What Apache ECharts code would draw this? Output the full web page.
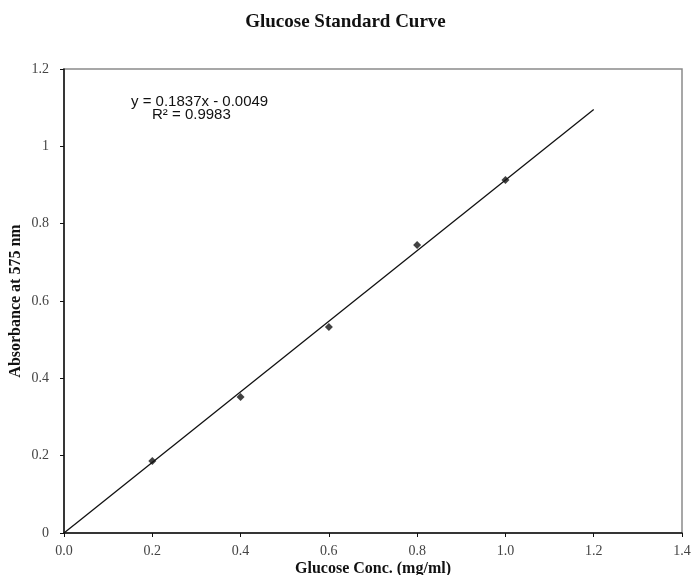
<!DOCTYPE html>
<html>
<head>
<meta charset="utf-8">
<script src="https://cdn.jsdelivr.net/npm/echarts@6/dist/echarts.min.js"></script>
<style>
  html, body { margin: 0; padding: 0; background: #fff; }
  #chart { width: 691px; height: 575px; }
</style>
</head>
<body>
<div id="chart"></div>
<script>
// Glucose standards: concentration (mg/ml) and measured absorbance
const concentration = [0.2, 0.4, 0.6, 0.8, 1.0];
const absorbance = [0.186, 0.352, 0.533, 0.745, 0.913];

// Fitted trend line endpoints
const trendX = [0, 1.2];
const trendY = [0, 1.095];

const equationLines = ['y = 0.1837x - 0.0049', 'R\u00b2 = 0.9983'];

const serif = "'Liberation Serif', 'DejaVu Serif', serif";
const sans = "'Liberation Sans', Arial, sans-serif";

const chart = echarts.init(document.getElementById('chart'));

chart.setOption({
  animation: false,
  backgroundColor: '#fff',
  title: {
    text: 'Glucose Standard Curve',
    left: 'center',
    top: 8,
    textStyle: { fontFamily: serif, fontWeight: 'bold', fontSize: 19, color: '#111' }
  },
  grid: {
    left: 64, right: 9, top: 69, bottom: 42,
    outerBoundsMode: 'none',
    containLabel: false,
    show: true, borderColor: '#8a8a8a', borderWidth: 1.5, backgroundColor: 'transparent'
  },
  xAxis: {
    type: 'value', min: 0, max: 1.4, interval: 0.2,
    name: 'Glucose Conc. (mg/ml)',
    nameLocation: 'middle', nameGap: 28, nameMoveOverlap: false,
    nameTextStyle: { fontFamily: serif, fontWeight: 'bold', fontSize: 16, color: '#111' },
    axisLine: { show: true, onZero: false, lineStyle: { color: '#111', width: 1.5 } },
    axisTick: { show: true, length: 4, lineStyle: { color: '#111' } },
    axisLabel: {
      fontFamily: serif, fontSize: 14, color: '#444', margin: 11,
      formatter: v => v.toFixed(1)
    },
    splitLine: { show: false }
  },
  yAxis: {
    type: 'value', min: 0, max: 1.2, interval: 0.2,
    name: 'Absorbance at 575 nm',
    nameLocation: 'middle', nameGap: 40, nameRotate: 90, nameMoveOverlap: false,
    nameTextStyle: { fontFamily: serif, fontWeight: 'bold', fontSize: 16, color: '#111' },
    axisLine: { show: true, onZero: false, lineStyle: { color: '#111', width: 1.5 } },
    axisTick: { show: true, length: 4, lineStyle: { color: '#111' } },
    axisLabel: {
      fontFamily: serif, fontSize: 14, color: '#444', margin: 15,
      formatter: v => (Math.abs(v - Math.round(v)) < 1e-9 ? String(Math.round(v)) : v.toFixed(1))
    },
    splitLine: { show: false }
  },
  series: [
    {
      name: 'Trend',
      type: 'line',
      data: trendX.map((x, i) => [x, trendY[i]]),
      showSymbol: false,
      symbol: 'none',
      lineStyle: { color: '#111', width: 1.3 },
      z: 2
    },
    {
      name: 'Standards',
      type: 'scatter',
      data: concentration.map((x, i) => [x, absorbance[i]]),
      symbol: 'diamond',
      symbolSize: 8,
      itemStyle: { color: '#111' },
      z: 3
    }
  ],
  graphic: [
    {
      type: 'text', left: 131, top: 94,
      style: { text: equationLines[0], font: `15px ${sans}`, fill: '#111' }
    },
    {
      type: 'text', left: 152, top: 107,
      style: { text: equationLines[1], font: `15px ${sans}`, fill: '#111' }
    }
  ]
});
</script>
</body>
</html>
